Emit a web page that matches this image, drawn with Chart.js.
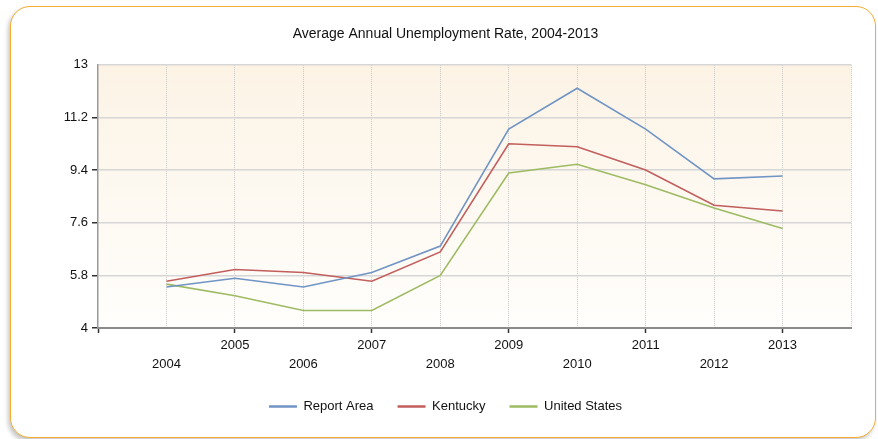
<!DOCTYPE html>
<html>
<head>
<meta charset="utf-8">
<script src="https://cdn.jsdelivr.net/npm/chart.js@4"></script>
<style>
  html, body { margin: 0; padding: 0; background: #fff; }
  body { width: 878px; height: 439px; position: relative; overflow: hidden; }
  .card {
    position: absolute; left: 10px; top: 6px; width: 864px; height: 430px;
    border: 1.5px solid #f6ad2f; border-radius: 20px;
    box-shadow: -2px 3px 4px rgba(0, 0, 0, 0.22);
    background: #fff;
  }
  #chart { position: absolute; left: 0; top: 0; }
</style>
</head>
<body>
<div class="card"></div>
<canvas id="chart" width="878" height="439"></canvas>
<script>
// Unemployment rate (%) by year
const years = [2004, 2005, 2006, 2007, 2008, 2009, 2010, 2011, 2012, 2013];
const reportArea = [5.4, 5.7, 5.4, 5.9, 6.8, 10.8, 12.2, 10.8, 9.1, 9.2];
const kentucky = [5.6, 6.0, 5.9, 5.6, 6.6, 10.3, 10.2, 9.4, 8.2, 8.0];
const unitedStates = [5.5, 5.1, 4.6, 4.6, 5.8, 9.3, 9.6, 8.9, 8.1, 7.4];
const yTicks = [4, 5.8, 7.6, 9.4, 11.2, 13];

const FONT = "'Liberation Sans', Arial, sans-serif";

function toPoints(values) {
    return years.map((y, i) => ({ x: y, y: values[i] }));
}

// Soft cream wash behind the plot
const plotBackground = {
    id: 'plotBackground',
    beforeDraw(chart) {
        const { ctx, chartArea: a } = chart;
        const g = ctx.createLinearGradient(0, a.top, 0, a.bottom);
        g.addColorStop(0, '#fcf3e5');
        g.addColorStop(1, '#fffefc');
        ctx.save();
        ctx.fillStyle = g;
        ctx.fillRect(a.left, a.top, a.right - a.left, a.bottom - a.top);
        ctx.restore();
    }
};

new Chart(document.getElementById('chart'), {
    type: 'line',
    data: {
        datasets: [
            { label: 'Report Area', data: toPoints(reportArea), borderColor: '#7094c4' },
            { label: 'Kentucky', data: toPoints(kentucky), borderColor: '#c25e5c' },
            { label: 'United States', data: toPoints(unitedStates), borderColor: '#9dbb62' }
        ]
    },
    options: {
        responsive: false,
        animation: false,
        layout: { padding: { left: 40, right: 27, top: 0, bottom: 16 } },
        elements: {
            line: { borderWidth: 1.6, tension: 0, fill: false },
            point: { radius: 0, hoverRadius: 0 }
        },
        plugins: {
            tooltip: { enabled: false },
            title: {
                display: true,
                text: 'Average Annual Unemployment Rate, 2004-2013',
                color: '#111',
                font: { family: FONT, size: 14, weight: 'normal' },
                padding: { top: 26, bottom: 22 }
            },
            legend: {
                position: 'bottom',
                labels: {
                    color: '#111',
                    font: { family: FONT, size: 13 },
                    usePointStyle: true,
                    pointStyle: 'line',
                    pointStyleWidth: 28,
                    padding: 24,
                    generateLabels(chart) {
                        return Chart.defaults.plugins.legend.labels.generateLabels(chart)
                            .map(item => Object.assign(item, { lineWidth: 2.5 }));
                    }
                }
            }
        },
        scales: {
            x: {
                type: 'linear',
                min: years[0] - 1,
                max: years[years.length - 1] + 1,
                afterFit(scale) { scale.height = 48; },
                ticks: {
                    stepSize: 1,
                    autoSkip: false,
                    maxRotation: 0,
                    padding: 3,
                    color: '#111',
                    font: { family: FONT, size: 13, lineHeight: 1.45 },
                    callback(v) {
                        if (!years.includes(v)) return '';
                        return v % 2 ? [String(v), ''] : ['', String(v)];
                    }
                },
                grid: {
                    color: ctx => (ctx.tick && ctx.tick.value === years[0] - 1) ? 'rgba(0,0,0,0)' : '#c8c8c8',
                    lineWidth: 1,
                    tickLength: 5,
                    tickWidth: 1.5,
                    tickColor: ctx => (ctx.tick && (ctx.tick.value % 2 === 1)) ? '#333' : 'rgba(0,0,0,0)'
                },
                border: { color: '#8a8a8a', width: 2, dash: [1, 1] }
            },
            y: {
                min: yTicks[0],
                max: yTicks[yTicks.length - 1],
                afterFit(scale) { scale.width = 58; },
                afterBuildTicks(scale) { scale.ticks = yTicks.map(v => ({ value: v })); },
                ticks: {
                    padding: 4,
                    color: '#111',
                    font: { family: FONT, size: 13 }
                },
                grid: {
                    color: '#d6d6d6',
                    lineWidth: 1.5,
                    tickLength: 6,
                    tickWidth: 1.5,
                    tickColor: ctx => (ctx.tick && ctx.tick.value === yTicks[yTicks.length - 1]) ? 'rgba(0,0,0,0)' : '#333'
                },
                border: { color: '#999', width: 1.5 }
            }
        }
    },
    plugins: [plotBackground]
});
</script>
</body>
</html>
